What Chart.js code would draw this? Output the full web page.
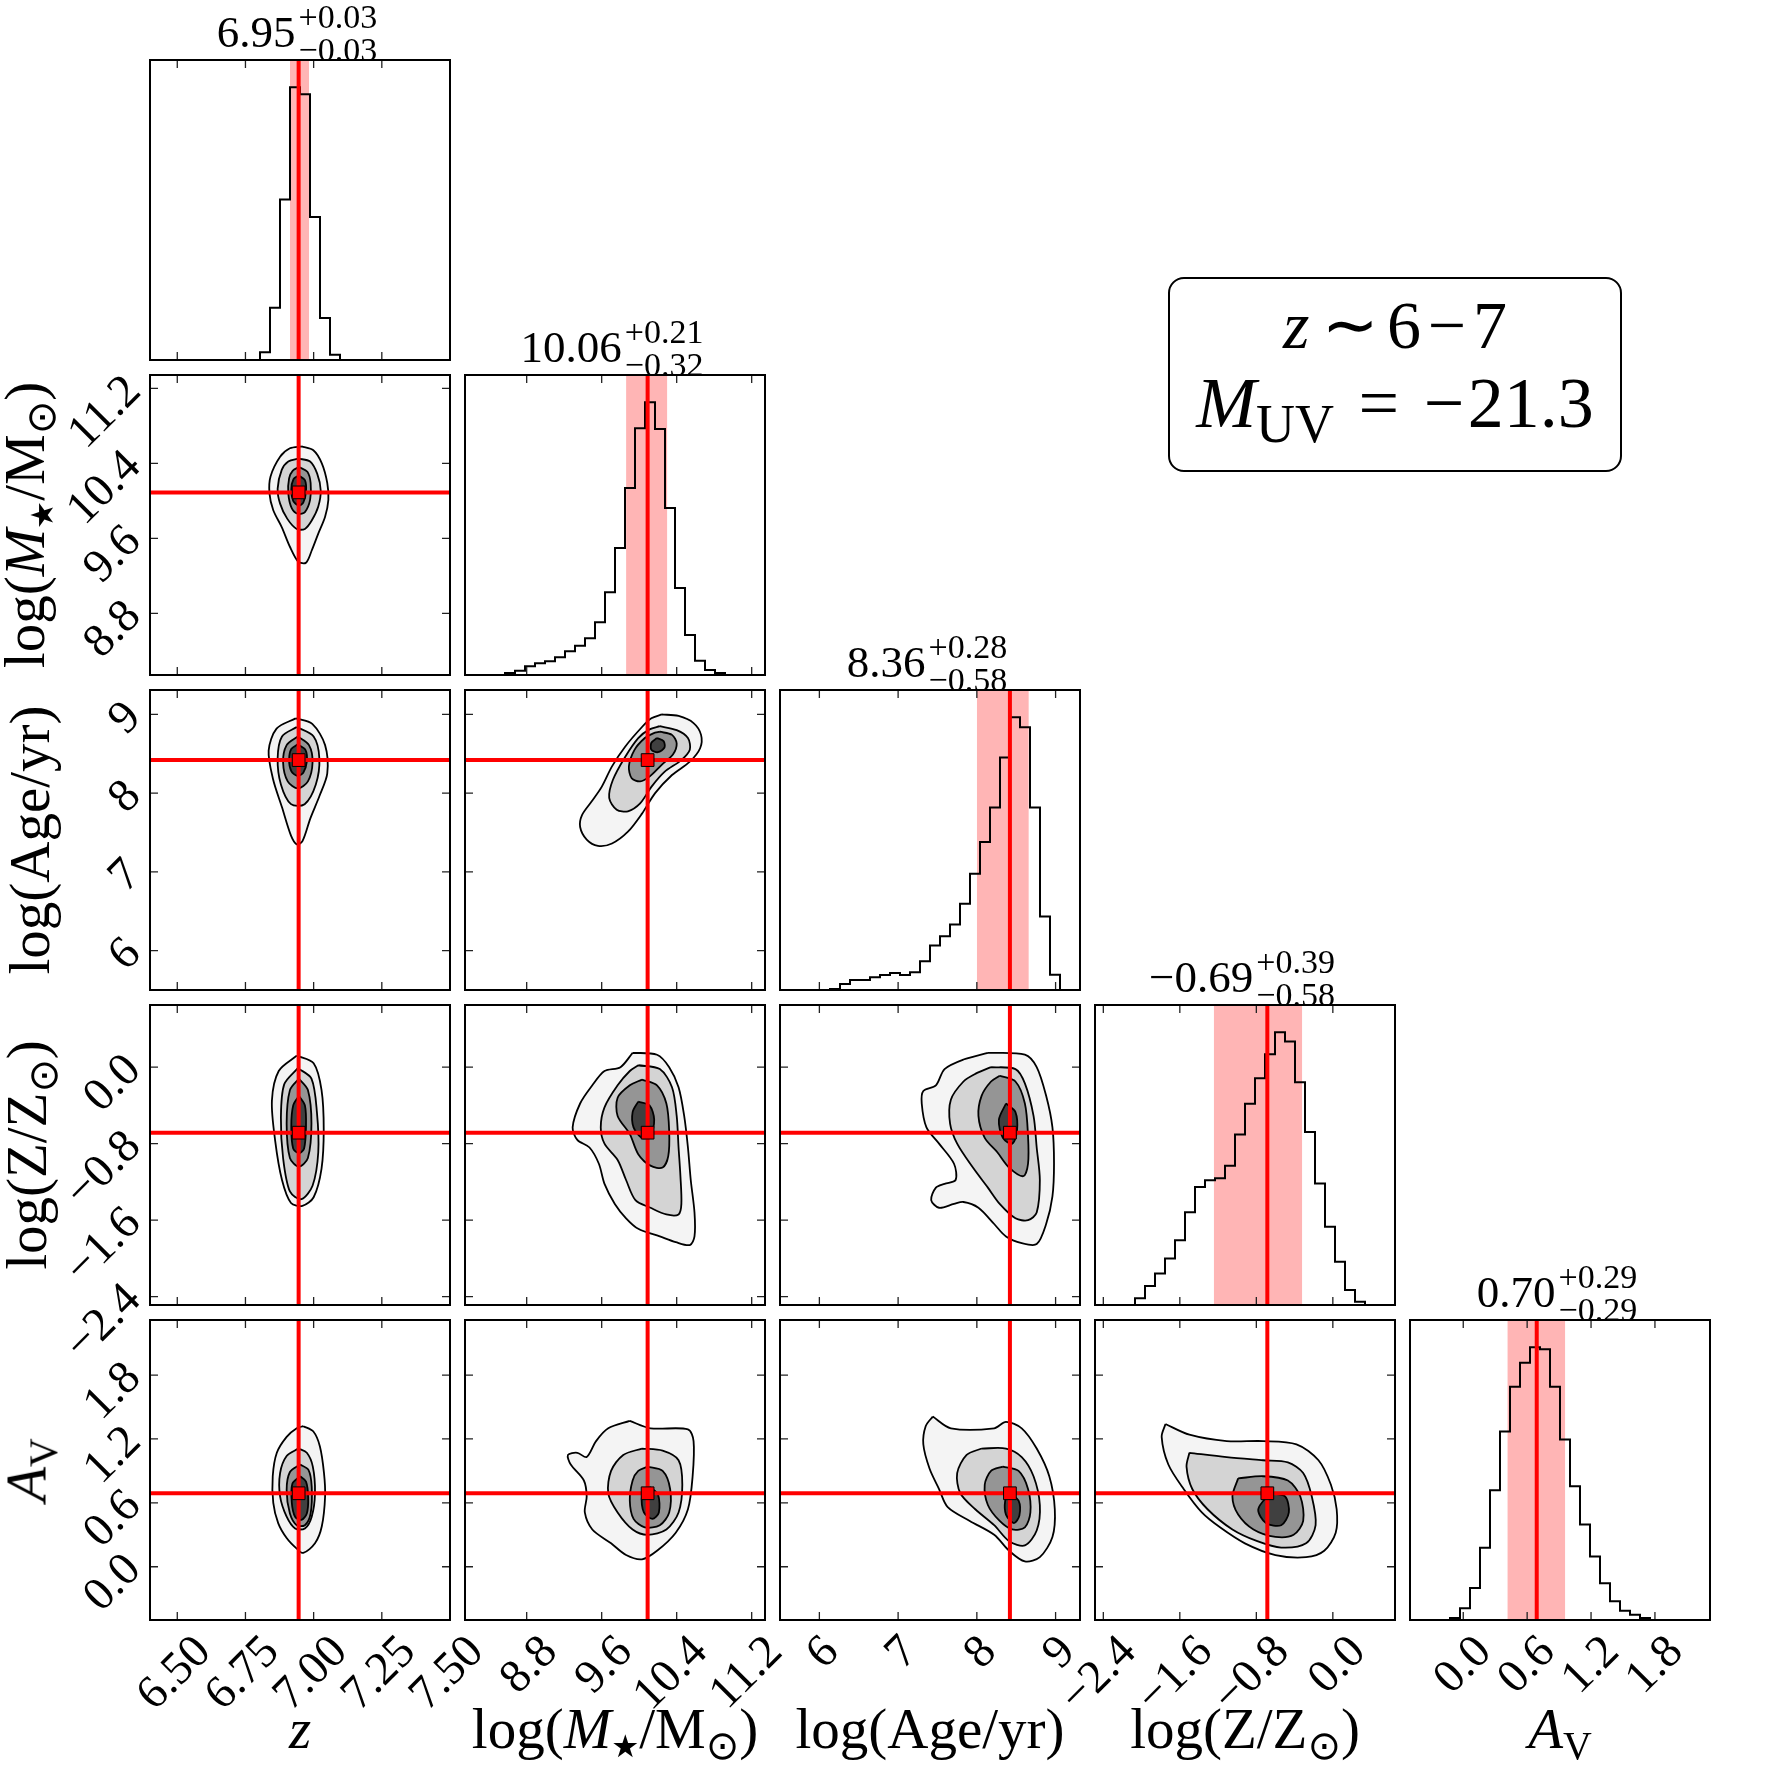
<!DOCTYPE html>
<html lang="en">
<head>
<meta charset="UTF-8">
<title>Corner plot z~6-7</title>
<script src="https://cdn.jsdelivr.net/npm/chart.js"></script>
<style>
  body { margin: 0; background: #fff; }
  #wrap { position: relative; width: 1770px; height: 1770px; overflow: hidden;
          font-family: "Liberation Serif", "DejaVu Serif", serif; color: #000; }
  canvas { position: absolute; }
  .ttl { position: absolute; display: flex; align-items: flex-start; white-space: nowrap; transform: translateX(-50%); }
  .ttl .v { font-size: 45px; line-height: 44px; }
  .ttl .ss { display: flex; flex-direction: column; font-size: 34px; line-height: 33px; margin-top: -10px; margin-left: 3px; }
  .xl { position: absolute; top: 1700px; font-size: 57px; line-height: 57px; white-space: nowrap; transform: translateX(-50%); }
  .yl { position: absolute; left: 29px; font-size: 57px; line-height: 57px; white-space: nowrap;
        transform: translate(-50%, -50%) rotate(-90deg); }
  .sb { font-size: 0.7em; position: relative; top: 0.28em; }
  .sym { font-family: "DejaVu Sans", sans-serif; }
  #box { position: absolute; left: 1168px; top: 277px; width: 450px; height: 191px;
         border: 2px solid #000; border-radius: 16px; background: #fff; }
  #box div { position: absolute; left: 0; right: 0; text-align: center; font-size: 68px; line-height: 68px; white-space: nowrap; }
</style>
</head>
<body>
<div id="wrap"></div>
<script>
// axis ranges
const rangeZ = [6.40, 7.50];
const rangeM = [8.142, 11.342];
const rangeAge = [5.50, 9.31];
const rangeMet = [-2.487, 0.650];
const rangeAv = [-0.50, 2.317];

// 30-bin histograms
const binsZ = [0,0,0,0,0,0,0,0,0,0,0,23,156,480,816,795,428,126,16,0,0,0,0,0,0,0,0,0,0,0];
const binsM = [0,0,0,0,6,13,26,35,41,53,71,88,110,158,248,381,561,740,818,738,501,261,120,43,15,6,0,0,0,0];
const binsAge = [0,0,0,0,0,3,18,30,30,38,45,51,45,53,86,133,161,196,258,348,443,546,696,816,786,546,220,46,0,0];
const binsMet = [0,0,0,0,20,57,95,140,195,279,355,375,381,419,513,605,682,754,820,792,670,520,365,235,130,45,10,0,0,0];
const binsAv = [0,0,0,0,6,35,96,216,388,564,698,770,816,810,698,540,400,286,190,110,56,28,16,6,0,0,0,0,0,0];

// shaded intervals and red reference values
const bandZ = [6.913, 6.983];
const bandM = [9.86, 10.30];
const bandAge = [8.00, 8.66];
const bandMet = [-1.245, -0.32];
const bandAv = [0.414, 0.958];
const truthZ = 6.945, truthM = 10.09, truthAge = 8.42, truthMet = -0.685, truthAv = 0.69;

// ticks
const ticksZ = [6.50, 6.75, 7.00, 7.25, 7.50];
const ticksM = [8.8, 9.6, 10.4, 11.2];
const ticksAge = [6, 7, 8, 9];
const ticksMet = [-2.4, -1.6, -0.8, 0.0];
const ticksAv = [0.0, 0.6, 1.2, 1.8];
const tickLabelsZ = ['6.50', '6.75', '7.00', '7.25', '7.50'];
const tickLabelsM = ['8.8', '9.6', '10.4', '11.2'];
const tickLabelsAge = ['6', '7', '8', '9'];
const tickLabelsMet = ['\u22122.4', '\u22121.6', '\u22120.8', '0.0'];
const tickLabelsAv = ['0.0', '0.6', '1.2', '1.8'];

// titles above the histograms
const histTitles = ['6.95', '10.06', '8.36', '\u22120.69', '0.70'];
const histUp = ['+0.03', '+0.21', '+0.28', '+0.39', '+0.29'];
const histDown = ['\u22120.03', '\u22120.32', '\u22120.58', '\u22120.58', '\u22120.29'];

const axisNames = [
  '<i>z</i>',
  'log(<i>M</i><span class="sb sym" style="font-size:0.55em">\u2605</span>/M<span class="sb sym">\u2299</span>)',
  'log(Age/yr)',
  'log(Z/Z<span class="sb sym">\u2299</span>)',
  '<i>A</i><span class="sb">V</span>'
];

// contour levels, outer to inner, [x, y] in data units
const contZM = [
  [[6.956,10.58],[6.999,10.54],[7.030,10.40],[7.050,10.19],[7.054,10.01],[7.042,9.83],[7.017,9.65],[6.993,9.47],[6.972,9.34],[6.944,9.35],[6.913,9.51],[6.883,9.72],[6.852,9.90],[6.838,10.08],[6.842,10.26],[6.877,10.47],[6.913,10.56]],
  [[6.944,10.45],[6.987,10.42],[7.013,10.29],[7.026,10.11],[7.017,9.94],[6.993,9.79],[6.968,9.70],[6.938,9.70],[6.903,9.81],[6.877,9.97],[6.868,10.13],[6.883,10.33],[6.907,10.42]],
  [[6.946,10.36],[6.977,10.31],[6.989,10.19],[6.987,10.01],[6.968,9.88],[6.944,9.86],[6.920,9.92],[6.907,10.08],[6.910,10.24],[6.923,10.32]],
  [[6.945,10.27],[6.968,10.22],[6.972,10.10],[6.962,9.98],[6.945,9.95],[6.925,10.00],[6.918,10.12],[6.926,10.23]]
];
const contZAge = [
  [[6.934,8.95],[6.995,8.88],[7.042,8.61],[7.050,8.25],[7.021,7.96],[6.988,7.68],[6.959,7.39],[6.938,7.35],[6.917,7.46],[6.884,7.82],[6.851,8.18],[6.835,8.54],[6.864,8.82]],
  [[6.938,8.84],[7.000,8.72],[7.021,8.44],[7.008,8.11],[6.967,7.86],[6.917,7.86],[6.880,8.11],[6.868,8.44],[6.884,8.72]],
  [[6.942,8.72],[6.983,8.61],[6.996,8.39],[6.979,8.15],[6.942,8.06],[6.905,8.15],[6.888,8.39],[6.901,8.61]],
  [[6.942,8.62],[6.970,8.55],[6.975,8.40],[6.962,8.26],[6.940,8.22],[6.918,8.28],[6.910,8.42],[6.918,8.56]]
];
const contZMet = [
  [[6.938,0.12],[7.000,0.04],[7.029,-0.24],[7.037,-0.65],[7.029,-1.06],[7.000,-1.36],[6.959,-1.45],[6.917,-1.42],[6.884,-1.18],[6.859,-0.77],[6.847,-0.35],[6.872,-0.04]],
  [[6.942,-0.01],[6.992,-0.12],[7.012,-0.47],[7.017,-0.89],[6.996,-1.24],[6.955,-1.38],[6.913,-1.30],[6.888,-0.95],[6.880,-0.53],[6.892,-0.18]],
  [[6.946,-0.12],[6.979,-0.24],[6.992,-0.59],[6.979,-0.95],[6.946,-1.04],[6.913,-0.95],[6.901,-0.59],[6.913,-0.24]],
  [[6.946,-0.30],[6.968,-0.40],[6.972,-0.62],[6.965,-0.85],[6.946,-0.90],[6.925,-0.85],[6.918,-0.62],[6.925,-0.40]]
];
const contZAv = [
  [[6.962,1.32],[6.999,1.27],[7.023,1.13],[7.038,0.88],[7.042,0.66],[7.030,0.38],[7.005,0.22],[6.962,0.13],[6.938,0.17],[6.901,0.27],[6.870,0.41],[6.852,0.60],[6.850,0.85],[6.865,1.07],[6.901,1.22],[6.938,1.30]],
  [[6.944,1.11],[6.975,1.07],[6.997,0.94],[7.005,0.69],[6.993,0.47],[6.968,0.36],[6.932,0.36],[6.901,0.47],[6.877,0.66],[6.877,0.88],[6.901,1.04]],
  [[6.950,0.96],[6.981,0.91],[6.993,0.75],[6.989,0.50],[6.968,0.39],[6.938,0.39],[6.913,0.50],[6.901,0.72],[6.913,0.89]],
  [[6.950,0.85],[6.972,0.80],[6.980,0.65],[6.975,0.50],[6.955,0.44],[6.932,0.47],[6.920,0.60],[6.922,0.78]]
];
const contMAge = [
  [[10.24,9.00],[10.42,8.98],[10.58,8.89],[10.66,8.74],[10.65,8.57],[10.54,8.40],[10.35,8.23],[10.17,8.00],[10.03,7.74],[9.88,7.51],[9.71,7.36],[9.56,7.33],[9.44,7.41],[9.37,7.57],[9.39,7.72],[9.49,7.89],[9.60,8.08],[9.71,8.34],[9.85,8.59],[10.03,8.84],[10.13,8.95]],
  [[10.22,8.85],[10.40,8.80],[10.52,8.70],[10.54,8.55],[10.45,8.42],[10.27,8.27],[10.13,8.08],[10.01,7.87],[9.88,7.77],[9.76,7.79],[9.68,7.94],[9.72,8.17],[9.85,8.46],[9.99,8.70],[10.11,8.81]],
  [[10.22,8.78],[10.35,8.74],[10.40,8.63],[10.36,8.49],[10.24,8.36],[10.11,8.21],[10.01,8.15],[9.92,8.19],[9.89,8.34],[9.95,8.55],[10.06,8.70],[10.15,8.76]],
  [[10.19,8.70],[10.26,8.66],[10.27,8.58],[10.20,8.52],[10.13,8.55],[10.13,8.64]]
];
const contMMet = [
  [[9.93,0.15],[10.19,0.13],[10.32,0.00],[10.42,-0.21],[10.48,-0.51],[10.52,-0.84],[10.55,-1.18],[10.59,-1.52],[10.59,-1.77],[10.54,-1.86],[10.39,-1.83],[10.22,-1.77],[9.99,-1.69],[9.86,-1.58],[9.74,-1.43],[9.63,-1.22],[9.57,-1.01],[9.47,-0.84],[9.34,-0.76],[9.29,-0.63],[9.37,-0.38],[9.50,-0.19],[9.63,-0.04],[9.80,0.00]],
  [[9.99,0.02],[10.22,-0.02],[10.35,-0.21],[10.40,-0.51],[10.42,-0.84],[10.44,-1.14],[10.45,-1.43],[10.42,-1.54],[10.29,-1.54],[10.12,-1.47],[9.96,-1.39],[9.86,-1.18],[9.77,-0.97],[9.63,-0.80],[9.59,-0.63],[9.63,-0.42],[9.77,-0.19],[9.90,-0.04]],
  [[10.03,-0.13],[10.19,-0.19],[10.29,-0.38],[10.32,-0.67],[10.31,-0.93],[10.25,-1.05],[10.12,-1.03],[9.99,-0.91],[9.90,-0.70],[9.77,-0.51],[9.77,-0.32],[9.90,-0.19]],
  [[9.99,-0.36],[10.11,-0.40],[10.16,-0.55],[10.12,-0.72],[10.03,-0.74],[9.94,-0.63],[9.93,-0.47]]
];
const contMAv = [
  [[9.90,1.37],[10.12,1.30],[10.52,1.29],[10.58,1.18],[10.57,0.85],[10.52,0.54],[10.39,0.32],[10.19,0.15],[10.03,0.07],[9.86,0.11],[9.70,0.22],[9.50,0.35],[9.42,0.51],[9.44,0.66],[9.41,0.81],[9.27,0.96],[9.24,1.05],[9.34,1.07],[9.44,1.03],[9.54,1.18],[9.67,1.30]],
  [[10.03,1.11],[10.25,1.09],[10.42,1.00],[10.46,0.77],[10.42,0.51],[10.29,0.35],[10.09,0.30],[9.93,0.35],[9.77,0.51],[9.67,0.69],[9.70,0.90],[9.83,1.05]],
  [[10.09,0.94],[10.25,0.90],[10.33,0.73],[10.32,0.51],[10.22,0.39],[10.06,0.37],[9.94,0.45],[9.90,0.62],[9.93,0.81],[9.99,0.90]],
  [[10.11,0.75],[10.20,0.68],[10.21,0.51],[10.14,0.45],[10.05,0.51],[10.03,0.66]]
];
const contAgeMet = [
  [[8.14,0.15],[8.61,0.13],[8.76,0.00],[8.88,-0.30],[8.96,-0.63],[8.98,-1.01],[8.96,-1.35],[8.88,-1.64],[8.76,-1.85],[8.57,-1.84],[8.37,-1.77],[8.22,-1.64],[8.02,-1.47],[7.83,-1.41],[7.71,-1.43],[7.52,-1.47],[7.42,-1.39],[7.48,-1.26],[7.59,-1.22],[7.73,-1.18],[7.71,-1.01],[7.52,-0.80],[7.36,-0.63],[7.30,-0.38],[7.32,-0.25],[7.48,-0.19],[7.59,-0.02],[7.83,0.08]],
  [[8.18,0.00],[8.49,-0.02],[8.61,-0.17],[8.72,-0.51],[8.76,-0.84],[8.80,-1.18],[8.76,-1.52],[8.65,-1.60],[8.49,-1.58],[8.29,-1.43],[8.14,-1.26],[7.95,-1.05],[7.75,-0.80],[7.66,-0.59],[7.67,-0.34],[7.83,-0.15],[7.98,-0.07]],
  [[8.29,-0.09],[8.49,-0.15],[8.61,-0.38],[8.65,-0.72],[8.65,-1.01],[8.59,-1.14],[8.41,-1.05],[8.26,-0.89],[8.10,-0.74],[8.02,-0.51],[8.06,-0.30],[8.18,-0.15]],
  [[8.37,-0.38],[8.49,-0.47],[8.51,-0.67],[8.45,-0.80],[8.33,-0.74],[8.28,-0.55]]
];
const contAgeAv = [
  [[7.44,1.41],[7.67,1.30],[8.22,1.30],[8.37,1.36],[8.57,1.30],[8.76,1.11],[8.92,0.85],[8.99,0.54],[8.96,0.28],[8.80,0.09],[8.61,0.05],[8.41,0.15],[8.22,0.30],[7.91,0.43],[7.63,0.56],[7.52,0.73],[7.40,0.92],[7.32,1.15],[7.35,1.32]],
  [[8.06,1.11],[8.37,1.11],[8.57,1.03],[8.72,0.85],[8.80,0.58],[8.76,0.34],[8.61,0.20],[8.41,0.24],[8.22,0.39],[7.98,0.54],[7.79,0.69],[7.75,0.88],[7.87,1.05]],
  [[8.33,0.94],[8.53,0.90],[8.65,0.73],[8.68,0.51],[8.61,0.37],[8.45,0.35],[8.29,0.43],[8.14,0.58],[8.10,0.77],[8.18,0.90]],
  [[8.41,0.69],[8.53,0.62],[8.54,0.48],[8.47,0.41],[8.37,0.49],[8.36,0.62]]
];
const contMetAv = [
  [[-1.75,1.34],[-1.50,1.24],[-1.11,1.18],[-0.73,1.18],[-0.38,1.15],[-0.15,1.00],[-0.02,0.77],[0.04,0.54],[0.03,0.32],[-0.09,0.15],[-0.28,0.09],[-0.60,0.11],[-0.92,0.22],[-1.18,0.37],[-1.37,0.51],[-1.56,0.73],[-1.72,0.96],[-1.79,1.22]],
  [[-1.50,1.07],[-1.11,1.03],[-0.73,1.00],[-0.47,0.98],[-0.31,0.88],[-0.22,0.66],[-0.18,0.39],[-0.28,0.22],[-0.54,0.18],[-0.79,0.24],[-1.05,0.35],[-1.31,0.54],[-1.47,0.73],[-1.53,0.94]],
  [[-0.99,0.83],[-0.73,0.85],[-0.47,0.81],[-0.34,0.66],[-0.31,0.43],[-0.41,0.30],[-0.60,0.28],[-0.83,0.35],[-0.99,0.49],[-1.05,0.66]],
  [[-0.66,0.69],[-0.50,0.66],[-0.46,0.51],[-0.54,0.39],[-0.70,0.41],[-0.78,0.54]]
];

const params = [
  {range: rangeZ, bins: binsZ, band: bandZ, truth: truthZ, ticks: ticksZ, labels: tickLabelsZ},
  {range: rangeM, bins: binsM, band: bandM, truth: truthM, ticks: ticksM, labels: tickLabelsM},
  {range: rangeAge, bins: binsAge, band: bandAge, truth: truthAge, ticks: ticksAge, labels: tickLabelsAge},
  {range: rangeMet, bins: binsMet, band: bandMet, truth: truthMet, ticks: ticksMet, labels: tickLabelsMet},
  {range: rangeAv, bins: binsAv, band: bandAv, truth: truthAv, ticks: ticksAv, labels: tickLabelsAv}
];
const contours = {
  '0-1': contZM, '0-2': contZAge, '0-3': contZMet, '0-4': contZAv,
  '1-2': contMAge, '1-3': contMMet, '1-4': contMAv,
  '2-3': contAgeMet, '2-4': contAgeAv, '3-4': contMetAv
};
const fills = ['#f4f4f4', '#d4d4d4', '#959595', '#404040'];

const X0 = 150, Y0 = 60, STEP = 315, SIZE = 300, PAD = 6, TICKFONT = 47;
const FONT = '"Liberation Serif", "DejaVu Serif", serif';
Chart.defaults.font.family = FONT;

const wrap = document.getElementById('wrap');
const mctx = document.createElement('canvas').getContext('2d');
mctx.font = TICKFONT + 'px ' + FONT;
const avgW = labels => labels.reduce((s, l) => s + mctx.measureText(l).width, 0) / labels.length;

// frame plus inward tick marks on the four sides
const framePlugin = {
  id: 'frame',
  afterDraw(chart) {
    const {ctx, chartArea: a, scales: {x, y}} = chart;
    ctx.save();
    ctx.strokeStyle = '#222';
    ctx.lineWidth = 1.3;
    ctx.beginPath();
    x.ticks.forEach(t => {
      const p = x.getPixelForValue(t.value);
      ctx.moveTo(p, a.bottom); ctx.lineTo(p, a.bottom - 8);
      ctx.moveTo(p, a.top); ctx.lineTo(p, a.top + 8);
    });
    y.ticks.forEach(t => {
      const p = y.getPixelForValue(t.value);
      ctx.moveTo(a.left, p); ctx.lineTo(a.left + 8, p);
      ctx.moveTo(a.right, p); ctx.lineTo(a.right - 8, p);
    });
    ctx.stroke();
    ctx.strokeStyle = '#000';
    ctx.lineWidth = 2;
    ctx.strokeRect(a.left, a.top, a.right - a.left, a.bottom - a.top);
    ctx.restore();
  }
};

function histPoints(p) {
  const lo = p.range[0], hi = p.range[1], w = (hi - lo) / p.bins.length;
  const pts = [{x: lo, y: 0}];
  p.bins.forEach((b, i) => pts.push({x: lo + i * w, y: b}));
  pts.push({x: hi, y: p.bins[p.bins.length - 1]}, {x: hi, y: 0});
  return pts;
}

function makePanel(r, c) {
  const left = X0 + STEP * c, top = Y0 + STEP * r;
  const isHist = r === c;
  const showY = c === 0 && !isHist, showX = r === 4;
  // room for rotated tick labels that hang past the frame
  const padL = showY ? left : (showX ? 55 : PAD);
  const padT = showY ? 50 : PAD;
  const padR = showX ? 50 : PAD;
  const padB = showX ? 110 : (showY ? 60 : PAD);

  const cv = document.createElement('canvas');
  cv.width = padL + SIZE + padR;
  cv.height = padT + SIZE + padB;
  cv.style.left = (left - padL) + 'px';
  cv.style.top = (top - padT) + 'px';
  wrap.appendChild(cv);

  const px = params[c], py = params[r];
  const datasets = [];
  let ymin, ymax;

  if (isHist) {
    ymin = 0;
    ymax = Math.max(...px.bins) * 1.1;
    datasets.push({data: histPoints(px), borderColor: '#000', borderWidth: 2, stepped: true, order: 2});
    datasets.push({data: [{x: px.truth, y: 0}, {x: px.truth, y: ymax}], borderColor: '#ff0000', borderWidth: 4, order: 1});
    datasets.push({data: [{x: px.band[0], y: ymax}, {x: px.band[1], y: ymax}], borderColor: 'rgba(0,0,0,0)',
                   borderWidth: 1, backgroundColor: 'rgba(255,0,0,0.29)', fill: 'origin', order: 5});
  } else {
    ymin = py.range[0];
    ymax = py.range[1];
    contours[c + '-' + r].forEach((poly, k) => {
      datasets.push({
        data: poly.concat([poly[0]]).map(q => ({x: q[0], y: q[1]})),
        borderColor: '#000', borderWidth: 1.8, backgroundColor: fills[k],
        fill: 'shape', tension: 0.3, order: 10 - k
      });
    });
    datasets.push({data: [{x: px.range[0], y: py.truth}, {x: px.range[1], y: py.truth}], borderColor: '#ff0000', borderWidth: 4, order: 3});
    datasets.push({data: [{x: px.truth, y: py.range[0]}, {x: px.truth, y: py.range[1]}], borderColor: '#ff0000', borderWidth: 4, order: 3});
    datasets.push({data: [{x: px.truth, y: py.truth}], showLine: false, pointRadius: 9, pointStyle: 'rect',
                   pointBackgroundColor: '#ff0000', pointBorderColor: '#000', pointBorderWidth: 1, order: 1});
  }

  const xOff = 0.24 * avgW(px.labels) + 7;

  new Chart(cv, {
    type: 'line',
    data: {datasets: datasets},
    options: {
      responsive: false,
      animation: false,
      events: [],
      devicePixelRatio: 1,
      layout: {autoPadding: false, padding: {top: padT, right: padR, left: 0, bottom: 0}},
      plugins: {legend: {display: false}, tooltip: {enabled: false}},
      elements: {point: {radius: 0}, line: {tension: 0}},
      scales: {
        x: {
          type: 'linear', min: px.range[0], max: px.range[1],
          grid: {display: false}, border: {display: false},
          afterBuildTicks: s => { s.ticks = px.ticks.map(v => ({value: v})); },
          afterFit: s => { s.height = padB; s.paddingLeft = 0; s.paddingRight = 0; },
          ticks: {
            display: showX, autoSkip: false, minRotation: 45, maxRotation: 45, padding: -3,
            color: '#000', font: {size: TICKFONT, family: FONT},
            callback: (v, i) => px.labels[i],
            labelOffset: xOff
          }
        },
        y: {
          type: 'linear', min: ymin, max: ymax,
          grid: {display: false}, border: {display: false},
          afterBuildTicks: s => { s.ticks = isHist ? [] : py.ticks.map(v => ({value: v})); },
          afterFit: s => { s.width = padL; s.paddingTop = 0; s.paddingBottom = 0; },
          ticks: {
            display: showY, autoSkip: false, minRotation: 45, maxRotation: 45, padding: 8,
            color: '#000', font: {size: TICKFONT, family: FONT},
            callback: (v, i) => py.labels[i],
            labelOffset: -4
          }
        }
      }
    },
    plugins: [framePlugin]
  });
}

for (let r = 0; r < 5; r++) {
  for (let c = 0; c <= r; c++) makePanel(r, c);
}

// histogram titles
histTitles.forEach((t, i) => {
  const d = document.createElement('div');
  d.className = 'ttl';
  d.style.left = (X0 + STEP * i + SIZE / 2 - 3) + 'px';
  d.style.top = (Y0 + STEP * i - 50) + 'px';
  d.innerHTML = '<span class="v">' + t + '</span><span class="ss"><span>' + histUp[i] + '</span><span>' + histDown[i] + '</span></span>';
  wrap.appendChild(d);
});

// axis titles
axisNames.forEach((n, i) => {
  const xl = document.createElement('div');
  xl.className = 'xl';
  xl.style.left = (X0 + STEP * i + SIZE / 2) + 'px';
  xl.innerHTML = n;
  wrap.appendChild(xl);
  if (i > 0) {
    const yl = document.createElement('div');
    yl.className = 'yl';
    yl.style.top = (Y0 + STEP * i + SIZE / 2) + 'px';
    yl.innerHTML = n;
    wrap.appendChild(yl);
  }
});

// annotation box
const box = document.createElement('div');
box.id = 'box';
box.innerHTML = '<div style="top:12px"><i>z</i><span class="sym" style="margin:0 0.12em 0 0.18em">\u223C</span>6<span style="margin:0 0.1em">\u2212</span>7</div>' +
  '<div style="top:90px;font-size:72px"><i>M</i><span class="sb" style="font-size:0.75em">UV</span><span style="margin:0 0.34em">=</span>\u2212<span style="margin-left:0.05em">21.3</span></div>';
wrap.appendChild(box);
</script>
</body>
</html>
